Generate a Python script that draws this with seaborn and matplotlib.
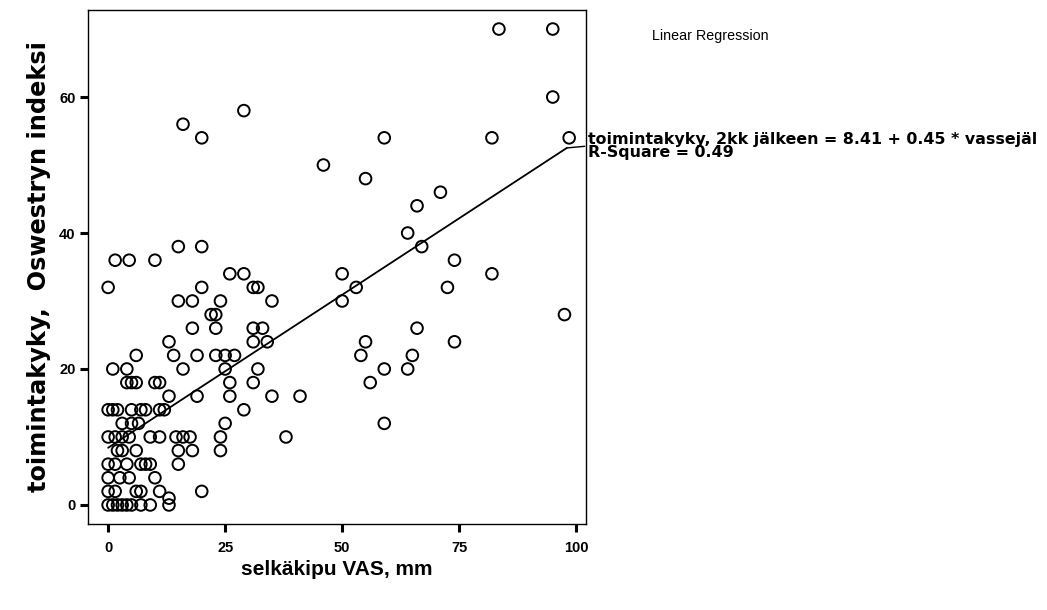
import matplotlib
matplotlib.use("Agg")
import matplotlib.pyplot as plt
import seaborn as sns
import numpy as np
import pandas as pd

# ---- data ----
vas = [83.5, 95, 95, 98.5, 82, 59, 46, 55, 71, 66, 64, 67,
       16, 20, 29,
       0, 1.5, 4.5, 10, 15, 20, 26, 29, 31, 32, 20, 15, 18, 24, 35, 22, 23, 18, 23, 31, 33,
       13, 31, 34, 6, 14, 19, 23, 25, 27, 1, 4, 16, 25, 32, 4, 5, 6, 10, 11, 26, 31,
       50, 55, 54, 59, 56, 59, 19, 26, 35, 41, 29, 25,
       74, 82, 72.5, 50, 53, 97.5, 66, 74, 65, 64,
       13,
       0, 1, 2, 5, 7, 8, 11, 12,
       3, 5, 6.5,
       0, 1.5, 3, 4.5, 9, 11, 14.5, 16, 17.5, 24, 38,
       2, 3, 6, 15, 18, 24,
       0, 1.5, 4, 7, 8, 9, 15,
       0, 2.5, 4.5, 10,
       0, 1.5, 6, 7, 11, 20,
       13,
       0, 1, 2, 3, 4, 5, 7, 9, 13]
odi = [70, 70, 60, 54, 54, 54, 50, 48, 46, 44, 40, 38,
       56, 54, 58,
       32, 36, 36, 36, 38, 38, 34, 34, 32, 32, 32, 30, 30, 30, 30, 28, 28, 26, 26, 26, 26,
       24, 24, 24, 22, 22, 22, 22, 22, 22, 20, 20, 20, 20, 20, 18, 18, 18, 18, 18, 18, 18,
       30, 24, 22, 20, 18, 12, 16, 16, 16, 16, 14, 12,
       36, 34, 32, 34, 32, 28, 26, 24, 22, 20,
       16,
       14, 14, 14, 14, 14, 14, 14, 14,
       12, 12, 12,
       10, 10, 10, 10, 10, 10, 10, 10, 10, 10, 10,
       8, 8, 8, 8, 8, 8,
       6, 6, 6, 6, 6, 6, 6,
       4, 4, 4, 4,
       2, 2, 2, 2, 2, 2,
       1,
       0, 0, 0, 0, 0, 0, 0, 0, 0]

intercept = 8.41
slope = 0.45
r_square = 0.49

x_ticks = [0, 25, 50, 75, 100]
y_ticks = [0, 20, 40, 60]

x_label = "selkäkipu VAS, mm"
y_label = "toimintakyky,  Oswestryn indeksi"
legend_title = "Linear Regression"
eq_label = "toimintakyky, 2kk jälkeen = 8.41 + 0.45 * vassejäl"
rsq_label = "R-Square = 0.49"

df = pd.DataFrame({"vas": vas, "odi": odi})

sns.set_theme(style="white")
narrow = ["Liberation Sans Narrow", "Liberation Sans", "DejaVu Sans"]
plt.rcParams["font.family"] = ["Liberation Sans", "DejaVu Sans"]
plt.rcParams["text.color"] = "black"
plt.rcParams["axes.labelcolor"] = "black"
plt.rcParams["xtick.color"] = "black"
plt.rcParams["ytick.color"] = "black"

fig = plt.figure(figsize=(10.47, 6.10), dpi=100)
ax = fig.add_axes([88 / 1047, 1 - 524 / 610, (586 - 88) / 1047, (524 - 10) / 610])

sns.scatterplot(data=df, x="vas", y="odi", ax=ax, marker="o", s=70,
                facecolor="none", edgecolor="black", linewidth=1.4, legend=False)

# fitted line over the data range
fx = np.array([min(vas), 98.0])
fit = pd.DataFrame({"vas": fx, "odi": intercept + slope * fx})
sns.lineplot(data=fit, x="vas", y="odi", ax=ax, color="black", linewidth=1.3)

ax.set_xlim(-4.3, 102.1)
ax.set_ylim(-2.8, 72.8)
ax.set_xticks(x_ticks)
ax.set_yticks(y_ticks)
ax.set_xticklabels([str(t) for t in x_ticks], fontweight="bold", family=narrow, fontsize=10.5)
ax.set_yticklabels([str(t) for t in y_ticks], fontweight="bold", family=narrow, fontsize=10.5)
ax.tick_params(axis="both", direction="out", length=6, width=2.2, color="black",
               bottom=True, left=True)
ax.tick_params(axis="x", pad=6)
ax.tick_params(axis="y", pad=3)
for sp in ax.spines.values():
    sp.set_color("black")
    sp.set_linewidth(1.0)
    sp.set_visible(True)

ax.set_xlabel(x_label, fontsize=15, fontweight="bold", labelpad=4)
ax.set_ylabel(y_label, fontsize=17.3, fontweight="bold", labelpad=6,
              family=["DejaVu Sans"])

fig.text(652 / 1047, 1 - 36 / 610, legend_title, fontsize=10.3, ha="left", va="center")

ax.annotate(eq_label + "\n" + rsq_label,
            xy=(fx[-1], intercept + slope * fx[-1]), xycoords="data",
            xytext=(588, 610 - 146), textcoords="figure pixels",
            ha="left", va="center", fontsize=11.4, fontweight="bold",
            family=["DejaVu Sans"], linespacing=0.9,
            arrowprops=dict(arrowstyle="-", color="black", lw=1.0,
                            relpos=(0, 0.5), shrinkA=0, shrinkB=0))

fig.savefig("out.png", dpi=100, facecolor="white")
